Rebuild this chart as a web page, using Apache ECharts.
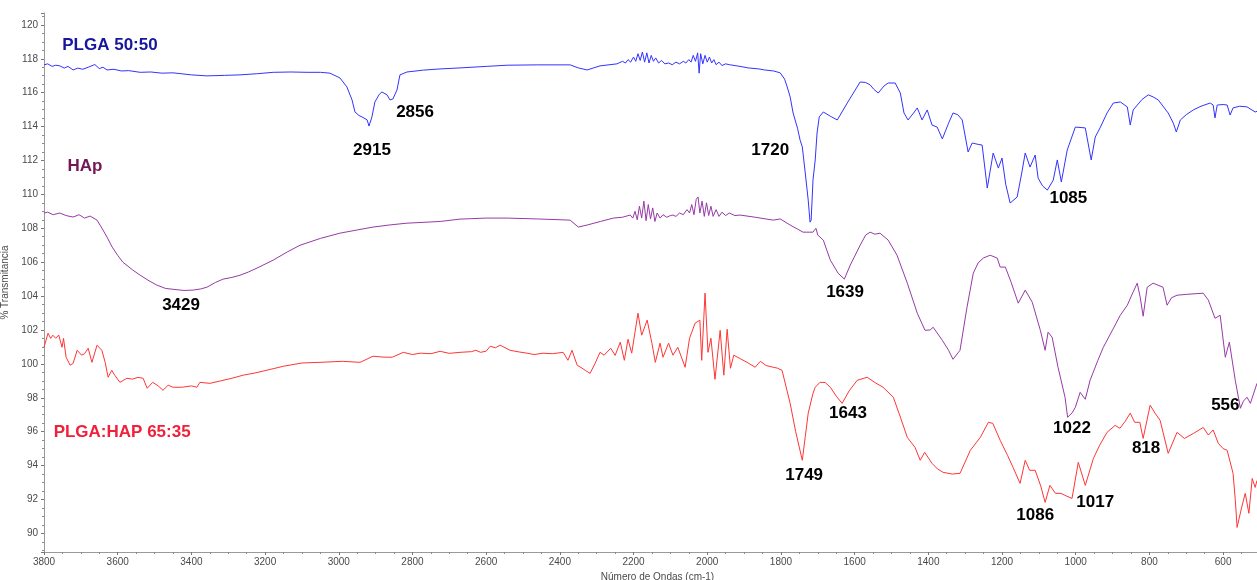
<!DOCTYPE html>
<html>
<head>
<meta charset="utf-8">
<script src="https://cdn.jsdelivr.net/npm/echarts@6/dist/echarts.min.js"></script>
<style>
html,body{margin:0;padding:0;background:#fff;}
#chart{width:1257px;height:580px;}
</style>
</head>
<body>
<div id="chart"></div>
<script>
// ---- Data (wavenumber cm-1, % transmittance) ----
const plga = [
[3800,117.64],[3790,117.7],[3778,117.55],[3768,117.62],[3757,117.58],[3745,117.45],[3735,117.55],[3721,117.34],[3708,117.45],[3695,117.38],[3680,117.5],[3662,117.66],[3650,117.42],[3640,117.5],[3629,117.34],[3610,117.38],[3590,117.28],[3570,117.3],[3539,117.2],[3510,117.22],[3480,117.15],[3450,117.17],[3400,117.05],[3358,116.99],[3310,117.02],[3268,117.05],[3220,117.12],[3178,117.2],[3130,117.22],[3086,117.2],[3050,117.2],[3024,117.15],[2997,116.87],[2978,116.34],[2964,115.57],[2956,114.86],[2945,114.65],[2937,114.57],[2923,114.39],[2918,114.03],[2910,114.57],[2902,115.45],[2890,115.9],[2883,116.04],[2869,115.87],[2861,115.57],[2853,115.63],[2842,116.16],[2834,117.05],[2815,117.22],[2770,117.33],[2725,117.4],[2671,117.46],[2600,117.55],[2543,117.62],[2460,117.64],[2372,117.64],[2350,117.46],[2326,117.34],[2291,117.58],[2245,117.7],
[2230,117.85],[2222,117.75],[2215,117.95],[2208,117.8],[2200,118.1],[2194,117.85],[2188,118.3],[2182,117.9],[2176,118.4],[2170,117.8],[2164,118.35],[2158,117.75],[2152,118.2],[2146,117.85],[2140,118.05],[2132,117.75],[2124,117.9],[2115,117.7],[2105,117.75],[2095,117.65],[2085,117.8],[2075,117.7],[2065,117.85],[2058,117.75],[2050,117.95],[2044,117.8],[2038,118.2],[2032,117.85],[2026,118.35],[2022,117.15],[2018,118.3],[2012,117.7],[2006,118.2],[2000,117.8],[1994,118.1],[1988,117.75],[1982,117.95],[1976,117.65],[1968,117.8],[1960,117.6],[1950,117.7],
[1940,117.65],[1911,117.55],[1889,117.46],[1860,117.4],[1845,117.34],[1820,117.28],[1802,117.17],[1790,116.8],[1783,116.34],[1775,115.75],[1767,114.8],[1755,113.9],[1748,113.2],[1742,112.8],[1734,111.26],[1726,109.66],[1721,108.36],[1718,108.48],[1713,110.84],[1707,112.03],[1702,113.62],[1696,114.57],[1685,114.86],[1665,114.6],[1647,114.39],[1620,115.39],[1600,116.1],[1585,116.63],[1570,116.6],[1558,116.46],[1548,116.2],[1536,115.98],[1520,116.4],[1509,116.57],[1490,116.57],[1476,115.98],[1466,114.8],[1455,114.39],[1440,114.8],[1430,115.1],[1417,114.39],[1403,114.98],[1390,114.09],[1376,113.97],[1362,113.27],[1345,114.2],[1333,114.8],[1320,114.7],[1308,114.39],[1292,112.5],[1281,113.03],[1265,112.95],[1254,112.91],[1240,110.37],[1224,112.44],[1210,111.55],[1200,112.14],[1190,110.6],[1178,109.49],[1159,109.84],[1147,111.2],[1137,112.44],[1124,111.61],[1110,112.32],[1102,110.96],[1090,110.5],[1077,110.25],[1061,110.84],[1050,112.03],[1039,110.73],[1023,112.62],[1001,113.97],[974,113.92],[958,112.03],[947,113.38],[934,113.92],[915,114.8],[898,115.39],[879,115.45],[860,115.16],[852,114.09],[844,114.98],[820,115.6],[803,115.87],[790,115.75],[776,115.57],[749,114.8],[735,114.2],[727,113.68],[716,114.39],[700,114.7],[681,114.98],[660,115.2],[635,115.39],[627,115.27],[622,114.51],[616,115.27],[600,115.3],[589,115.27],[581,114.68],[573,115.1],[555,115.2],[535,115.16],[513,114.86],[508,114.9]
];
const hap = [
[3800,108.9],[3790,108.95],[3775,108.8],[3757,108.9],[3740,108.75],[3721,108.66],[3705,108.8],[3690,108.6],[3675,108.72],[3656,108.48],[3643,108.01],[3629,107.48],[3615,106.89],[3600,106.4],[3586,106.0],[3560,105.55],[3539,105.23],[3515,104.9],[3493,104.64],[3470,104.45],[3450,104.4],[3420,104.33],[3396,104.35],[3375,104.42],[3358,104.52],[3335,104.8],[3314,105.0],[3290,105.1],[3268,105.23],[3245,105.42],[3222,105.65],[3178,106.12],[3140,106.6],[3105,107.0],[3050,107.4],[2997,107.71],[2950,107.9],[2907,108.07],[2860,108.2],[2815,108.3],[2725,108.4],[2671,108.54],[2600,108.6],[2543,108.6],[2460,108.55],[2372,108.48],[2350,108.07],[2326,108.19],[2290,108.4],[2255,108.6],[2230,108.65],[2209,108.78],
[2202,108.6],[2196,109.0],[2190,108.5],[2184,109.3],[2178,108.6],[2172,109.6],[2166,108.45],[2160,109.4],[2154,108.55],[2148,109.2],[2142,108.4],[2136,108.9],[2128,108.6],[2120,108.8],[2110,108.65],[2100,108.75],[2093,108.78],[2085,108.7],[2075,108.9],[2065,108.8],[2055,109.1],[2048,108.9],[2042,109.4],[2036,108.8],[2030,109.7],[2025,109.85],[2020,108.9],[2014,109.6],[2008,108.7],[2002,109.5],[1996,108.75],[1990,109.3],[1984,108.7],[1976,109.1],[1968,108.7],[1960,108.95],[1950,108.75],[1940,108.9],[1925,108.75],
[1911,108.78],[1870,108.65],[1821,108.48],[1802,108.55],[1775,108.19],[1755,107.95],[1740,107.77],[1713,107.77],[1705,108.0],[1700,107.6],[1685,107.3],[1666,106.12],[1645,105.35],[1628,105.0],[1612,105.82],[1585,107.0],[1570,107.6],[1558,107.77],[1545,107.65],[1531,107.71],[1509,107.3],[1485,106.41],[1457,104.76],[1430,102.99],[1409,101.98],[1395,102.0],[1387,102.16],[1362,101.39],[1345,100.8],[1333,100.27],[1314,100.8],[1295,103.34],[1278,105.35],[1265,105.95],[1251,106.24],[1232,106.41],[1213,106.24],[1205,105.71],[1191,105.71],[1175,104.8],[1156,103.58],[1137,104.35],[1118,103.64],[1096,101.98],[1083,100.8],[1075,101.87],[1064,101.57],[1048,99.8],[1029,98.03],[1022,96.85],[1010,97.1],[1001,97.44],[988,98.32],[974,97.91],[961,99.03],[940,100.2],[925,100.98],[900,102.0],[879,102.87],[860,103.46],[845,104.2],[833,104.76],[825,103.93],[817,102.81],[806,104.52],[790,104.76],[763,104.52],[752,103.46],[740,103.9],[725,104.05],[700,104.1],[654,104.17],[640,103.76],[622,102.69],[608,102.87],[594,100.39],[583,101.28],[567,99.03],[553,97.38],[545,97.8],[535,98.03],[526,97.67],[508,98.85]
];
const blend = [
[3800,100.98],[3789,101.81],[3782,101.5],[3776,101.69],[3768,101.51],[3760,101.7],[3751,100.98],[3747,101.5],[3740,100.39],[3729,99.92],[3721,100.03],[3710,100.8],[3698,100.51],[3690,100.6],[3680,100.92],[3670,100.09],[3656,101.1],[3643,100.8],[3634,100.09],[3626,99.21],[3616,99.62],[3608,99.33],[3594,98.91],[3575,99.15],[3560,99.1],[3545,99.2],[3531,99.15],[3520,98.56],[3505,98.91],[3490,98.7],[3477,98.44],[3463,98.74],[3450,98.62],[3425,98.62],[3400,98.7],[3385,98.62],[3377,98.91],[3350,98.85],[3320,99.0],[3290,99.15],[3260,99.33],[3230,99.45],[3200,99.6],[3150,99.86],[3100,100.05],[3040,100.1],[2990,100.15],[2942,100.09],[2907,100.45],[2880,100.4],[2855,100.39],[2825,100.68],[2800,100.55],[2779,100.63],[2750,100.6],[2725,100.74],[2700,100.62],[2671,100.68],[2640,100.72],[2628,100.8],[2615,100.68],[2600,100.75],[2589,101.04],[2575,100.95],[2562,101.1],[2535,100.8],[2510,100.7],[2489,100.63],[2470,100.55],[2446,100.63],[2420,100.6],[2391,100.68],[2378,100.21],[2367,100.8],[2353,99.92],[2340,99.75],[2330,99.6],[2318,99.44],[2305,100.0],[2291,100.68],[2280,100.51],[2262,100.92],[2250,100.5],[2236,101.28],[2225,100.21],[2215,101.45],[2205,100.63],[2188,102.99],[2178,101.69],[2163,102.58],[2150,101.2],[2141,100.09],[2128,101.22],[2120,100.39],[2105,101.22],[2093,100.51],[2080,100.98],[2060,99.8],[2048,101.51],[2033,102.4],[2020,102.58],[2015,100.21],[2006,104.17],[1998,100.68],[1990,101.51],[1979,99.09],[1965,101.98],[1955,99.33],[1946,102.04],[1937,99.74],[1928,100.51],[1910,100.3],[1892,100.09],[1870,99.8],[1856,100.15],[1840,99.9],[1821,99.8],[1810,99.75],[1797,99.62],[1775,97.67],[1760,96.0],[1742,94.31],[1734,95.7],[1726,97.09],[1713,98.26],[1707,98.62],[1694,98.91],[1680,98.9],[1666,98.62],[1650,98.1],[1634,97.67],[1615,98.4],[1593,99.03],[1566,99.21],[1545,98.9],[1523,98.62],[1495,98.03],[1475,96.8],[1457,95.66],[1436,95.07],[1422,94.31],[1410,94.78],[1390,94.13],[1375,93.8],[1360,93.6],[1335,93.5],[1314,93.54],[1286,94.9],[1259,95.66],[1237,96.55],[1225,96.49],[1205,95.49],[1185,94.6],[1170,93.89],[1151,92.95],[1137,94.31],[1125,93.72],[1110,93.72],[1095,92.8],[1083,91.83],[1070,92.83],[1055,92.36],[1040,92.36],[1025,92.2],[1010,92.06],[993,94.19],[974,92.83],[952,94.42],[935,95.2],[915,95.96],[893,96.37],[880,96.2],[866,96.6],[852,97.09],[840,96.55],[826,96.55],[817,95.6],[798,97.56],[785,97.1],[771,96.67],[749,94.72],[725,95.96],[705,95.6],[680,95.9],[654,96.25],[640,95.8],[627,96.1],[613,95.31],[600,95.0],[589,94.9],[573,93.54],[567,92.0],[562,90.35],[550,91.5],[540,92.36],[530,91.18],[521,93.24],[513,92.71],[508,93.12]
];

const peakLabels = ['2856','2915','1720','1085','3429','1639','1022','556','1643','1749','1086','1017','818'];
const peakX = [2793,2910,1829,1020,3428,1626,1010,594,1618,1737,1110,947,809];
const peakY = [114.86,112.62,112.62,109.78,103.46,104.23,96.2,97.55,97.08,93.42,91.06,91.83,95.02];

const seriesNames = ['PLGA 50:50','HAp','PLGA:HAP 65:35'];
const nameX = [3621,3689,3588];
const nameY = [118.82,111.67,95.96];

const lineColors = ['#3333ff','#963aa6','#ff3535'];
const nameColors = ['#16169e','#761655','#f0203a'];

const chart = echarts.init(document.getElementById('chart'));
const axisGray = '#9a9a9a';
const labelGray = '#4a4a4a';

const peakData = peakLabels.map((t,i)=>({value:[peakX[i],peakY[i]], name:t}));
const nameData = seriesNames.map((t,i)=>({value:[nameX[i],nameY[i]], name:t,
  label:{color:nameColors[i]}}));

const textBase = {show:true,position:'inside',formatter:p=>p.name,
  fontFamily:'Liberation Sans',fontWeight:'bold',fontSize:17,
  textBorderWidth:0,textBorderColor:'transparent',textShadowBlur:0,opacity:1};

chart.setOption({
  animation:false,
  backgroundColor:'#fff',
  grid:{left:44,right:0,top:13,bottom:28,containLabel:false,outerBoundsMode:'none'},
  xAxis:{
    type:'value', inverse:true, min:508, max:3800, splitNumber:16,
    name:'Número de Ondas (cm-1)', nameLocation:'middle', nameGap:19,
    nameTextStyle:{fontFamily:'Liberation Sans',fontSize:10,color:labelGray,padding:[0,0,0,14]},
    axisLine:{lineStyle:{color:axisGray,width:1}},
    axisTick:{show:true,length:3,lineStyle:{color:'#777'}},
    minorTick:{show:true,splitNumber:4,length:2,lineStyle:{color:'#888'}},
    splitLine:{show:false},
    axisLabel:{fontFamily:'Liberation Sans',fontSize:10,color:labelGray,margin:5,
      showMinLabel:false,showMaxLabel:true,formatter:v=>String(v)}
  },
  yAxis:{
    type:'value', min:88.9, max:120.7, splitNumber:16,
    name:'% Transmitancia', nameLocation:'middle', nameGap:25,
    nameTextStyle:{fontFamily:'Liberation Sans',fontSize:10,color:labelGray},
    axisLine:{show:true,lineStyle:{color:axisGray,width:1}},
    axisTick:{show:true,length:3,lineStyle:{color:'#777'}},
    minorTick:{show:true,splitNumber:4,length:2,lineStyle:{color:'#888'}},
    splitLine:{show:false},
    axisLabel:{fontFamily:'Liberation Sans',fontSize:10,color:labelGray,margin:6,
      showMinLabel:false,showMaxLabel:false,formatter:v=>String(v)}
  },
  series:[
    {type:'line',data:plga,showSymbol:false,symbol:'none',lineStyle:{color:lineColors[0],width:1},z:3},
    {type:'line',data:hap,showSymbol:false,symbol:'none',lineStyle:{color:lineColors[1],width:1},z:3},
    {type:'line',data:blend,showSymbol:false,symbol:'none',lineStyle:{color:lineColors[2],width:1},z:3},
    {type:'scatter',data:peakData,symbolSize:0,silent:true,z:5,itemStyle:{opacity:1},
      label:Object.assign({},textBase,{color:'#000'})},
    {type:'scatter',data:nameData,symbolSize:0,silent:true,z:5,itemStyle:{opacity:1},
      label:Object.assign({},textBase)}
  ]
});
</script>
</body>
</html>
